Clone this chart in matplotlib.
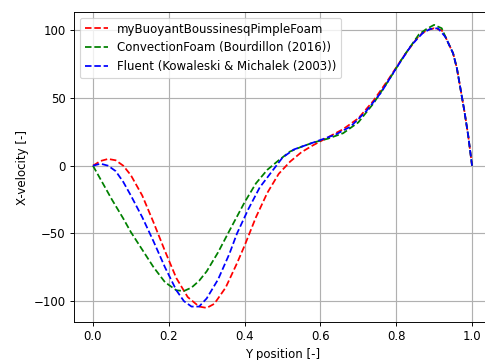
import matplotlib
matplotlib.use("Agg")
import matplotlib.pyplot as plt

red_x = [0.0, 0.02, 0.04, 0.06, 0.08, 0.10, 0.13, 0.16, 0.19, 0.22, 0.25, 0.28, 0.30, 0.32, 0.35,
         0.38, 0.40, 0.43, 0.46, 0.49, 0.52, 0.55, 0.58, 0.62, 0.66, 0.70, 0.74, 0.78, 0.82, 0.86,
         0.88, 0.90, 0.92, 0.93, 0.94, 0.95, 0.96, 0.97, 0.98, 0.99, 1.0]
red_y = [0, 3.5, 5, 4, 0, -7, -22, -42, -63, -83, -97, -104, -105, -102, -90,
         -72, -59, -38, -20, -6, 3, 10, 15, 21, 27, 35, 48, 64, 81, 96,
         100, 101.5, 100, 95, 89, 83, 72, 56, 40, 22, 0]

green_x = [0.0, 0.02, 0.05, 0.08, 0.10, 0.13, 0.16, 0.19, 0.22, 0.24, 0.26, 0.28, 0.30, 0.33, 0.36,
           0.40, 0.43, 0.46, 0.49, 0.52, 0.55, 0.58, 0.62, 0.66, 0.70, 0.74, 0.78, 0.82, 0.86, 0.88,
           0.90, 0.92, 0.93, 0.94, 0.95, 0.96, 0.97, 0.98, 0.99, 1.0]
green_y = [0, -10, -25, -39, -49, -62, -75, -86, -92, -92.5, -90, -85, -78, -64, -48,
           -27, -13, -3, 4, 10.5, 14, 17, 20, 24, 32, 46, 63, 81, 97, 101,
           104, 101.5, 95, 89, 83, 72, 56, 40, 22, 0]

blue_x = [0.0, 0.02, 0.04, 0.06, 0.08, 0.10, 0.13, 0.16, 0.19, 0.22, 0.24, 0.26, 0.28, 0.30, 0.33,
          0.36, 0.38, 0.41, 0.44, 0.47, 0.50, 0.53, 0.56, 0.60, 0.64, 0.68, 0.72, 0.76, 0.80, 0.84,
          0.87, 0.89, 0.91, 0.93, 0.94, 0.95, 0.96, 0.97, 0.98, 0.99, 1.0]
blue_y = [0, 1.5, 0, -4, -12, -22, -38, -56, -75, -92, -100, -104, -104, -98, -84,
          -65, -50, -32, -16, -5, 6, 12, 15, 19, 23, 29, 40, 54, 72, 89,
          98, 101, 101.5, 95, 89, 83, 72, 56, 40, 22, 0]

labels = ["myBuoyantBoussinesqPimpleFoam", "ConvectionFoam (Bourdillon (2016))",
          "Fluent (Kowaleski & Michalek (2003))"]

W, H, DPI = 485, 360, 84.4
fig = plt.figure(figsize=(W / DPI, H / DPI), dpi=DPI)
ax = fig.add_axes([74 / W, (H - 322) / H, (491 - 74) / W, (322 - 12) / H])

ax.plot(red_x, red_y, "r--", label=labels[0], lw=1.5)
ax.plot(green_x, green_y, "g--", label=labels[1], lw=1.5)
ax.plot(blue_x, blue_y, "b--", label=labels[2], lw=1.5)

ax.set_xlim(-0.05, 1.05)
ax.set_ylim(-115.4, 113.5)
ax.set_xticks([0.0, 0.2, 0.4, 0.6, 0.8, 1.0])
ax.set_yticks([-100, -50, 0, 50, 100])
ax.grid(True, color="#b0b0b0", lw=1.0)
ax.set_axisbelow(True)
ax.set_xlabel("Y position [-]")
ax.set_ylabel("X-velocity [-]")
ax.legend(loc="upper left")

fig.savefig("out.png", dpi=DPI)
